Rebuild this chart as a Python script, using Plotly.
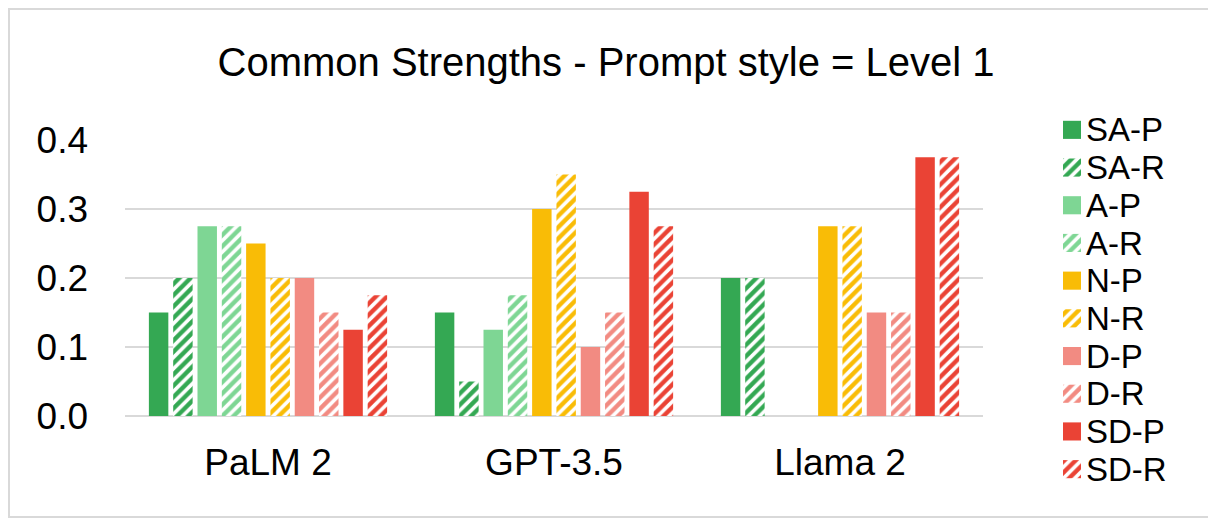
import plotly.graph_objects as go

models = ["PaLM 2", "GPT-3.5", "Llama 2"]
series = ["SA-P", "SA-R", "A-P", "A-R", "N-P", "N-R", "D-P", "D-R", "SD-P", "SD-R"]

sa_p = [0.15, 0.15, 0.2]
sa_r = [0.2, 0.05, 0.2]
a_p = [0.275, 0.125, 0.0]
a_r = [0.275, 0.175, 0.0]
n_p = [0.25, 0.3, 0.275]
n_r = [0.2, 0.35, 0.275]
d_p = [0.2, 0.1, 0.15]
d_r = [0.15, 0.15, 0.15]
sd_p = [0.125, 0.325, 0.375]
sd_r = [0.175, 0.275, 0.375]

values = [sa_p, sa_r, a_p, a_r, n_p, n_r, d_p, d_r, sd_p, sd_r]
colors = ["#34A853", "#34A853", "#7ED694", "#7ED694", "#F9BC06", "#F9BC06",
          "#F28B82", "#F28B82", "#EA4335", "#EA4335"]
hatched = [s.endswith("-R") for s in series]

HATCH = dict(size=8, solidity=0.55)

fig = go.Figure()
for name, vals, col, h in zip(series, values, colors, hatched):
    marker = dict(color=col, line=dict(width=0))
    if h:
        marker["pattern"] = dict(shape="/", fgcolor=col, bgcolor="white",
                                 fillmode="replace", **HATCH)
    fig.add_trace(go.Bar(name=name, x=models, y=vals, marker=marker,
                         showlegend=False, xaxis="x", yaxis="y"))

# legend drawn as a small swatch subplot, labels are its tick labels
fig.add_trace(go.Bar(
    x=[1] * len(series), y=series, orientation="h", width=0.48,
    marker=dict(color=colors, line=dict(width=0),
                pattern=dict(shape=["/" if h else "" for h in hatched],
                             fgcolor=colors, bgcolor="white", fillmode="replace", **HATCH)),
    xaxis="x2", yaxis="y2", showlegend=False, hoverinfo="skip"))

# page body has an 8px margin, so the figure is a bit smaller and everything
# is placed in screen pixels minus that offset
OFF = 8
W, H = 1216 - OFF, 518 - OFF
L, R, T, B = 117, 12, 92, 12
pw, ph = W - L - R, H - T - B


def px_x(sx):
    return (sx - OFF - L) / pw


def px_y(sy):
    return (H - B - (sy - OFF)) / ph


fig.add_shape(type="rect", xref="paper", yref="paper",
              x0=px_x(OFF + 1), x1=px_x(1215), y0=px_y(517), y1=px_y(OFF + 1),
              line=dict(color="#D9D9D9", width=2), fillcolor="rgba(0,0,0,0)", layer="below")

fig.update_layout(
    width=W, height=H,
    margin=dict(l=L, r=R, t=T, b=B, autoexpand=False),
    paper_bgcolor="white", plot_bgcolor="white",
    font=dict(family="Liberation Sans, Arial, sans-serif", color="#000000"),
    title=dict(text="Common Strengths - Prompt style = Level 1", x=(606 - OFF) / W,
               xanchor="center", xref="container", y=1 - (62 - OFF) / H, yref="container",
               yanchor="middle", font=dict(size=40, color="#000000")),
    barmode="group", bargap=0.15, bargroupgap=0.2,
    showlegend=False,
    xaxis=dict(domain=[px_x(125), px_x(983)], showline=False, ticks="", automargin=False,
               tickfont=dict(size=37), ticklabelstandoff=21, anchor="y"),
    yaxis=dict(domain=[px_y(416), px_y(140)], range=[0, 0.4], dtick=0.1, tickformat=".1f",
               showgrid=True, gridcolor="#D9D9D9", gridwidth=2, zeroline=True,
               zerolinecolor="#D9D9D9", zerolinewidth=2, showline=False, ticks="",
               automargin=False, tickfont=dict(size=37), ticklabelstandoff=36, anchor="x"),
    xaxis2=dict(domain=[px_x(1063), px_x(1081)], range=[0, 1], visible=False,
                automargin=False, anchor="y2"),
    yaxis2=dict(domain=[px_y(488), px_y(111)], range=[9.5, -0.5], side="right",
                anchor="x2", showgrid=False, zeroline=False, showline=False, ticks="",
                tickmode="linear", tick0=0, dtick=1, automargin=False,
                tickfont=dict(size=33), ticklabelstandoff=4,
                categoryorder="array", categoryarray=series),
)

fig.write_html("out.html")
